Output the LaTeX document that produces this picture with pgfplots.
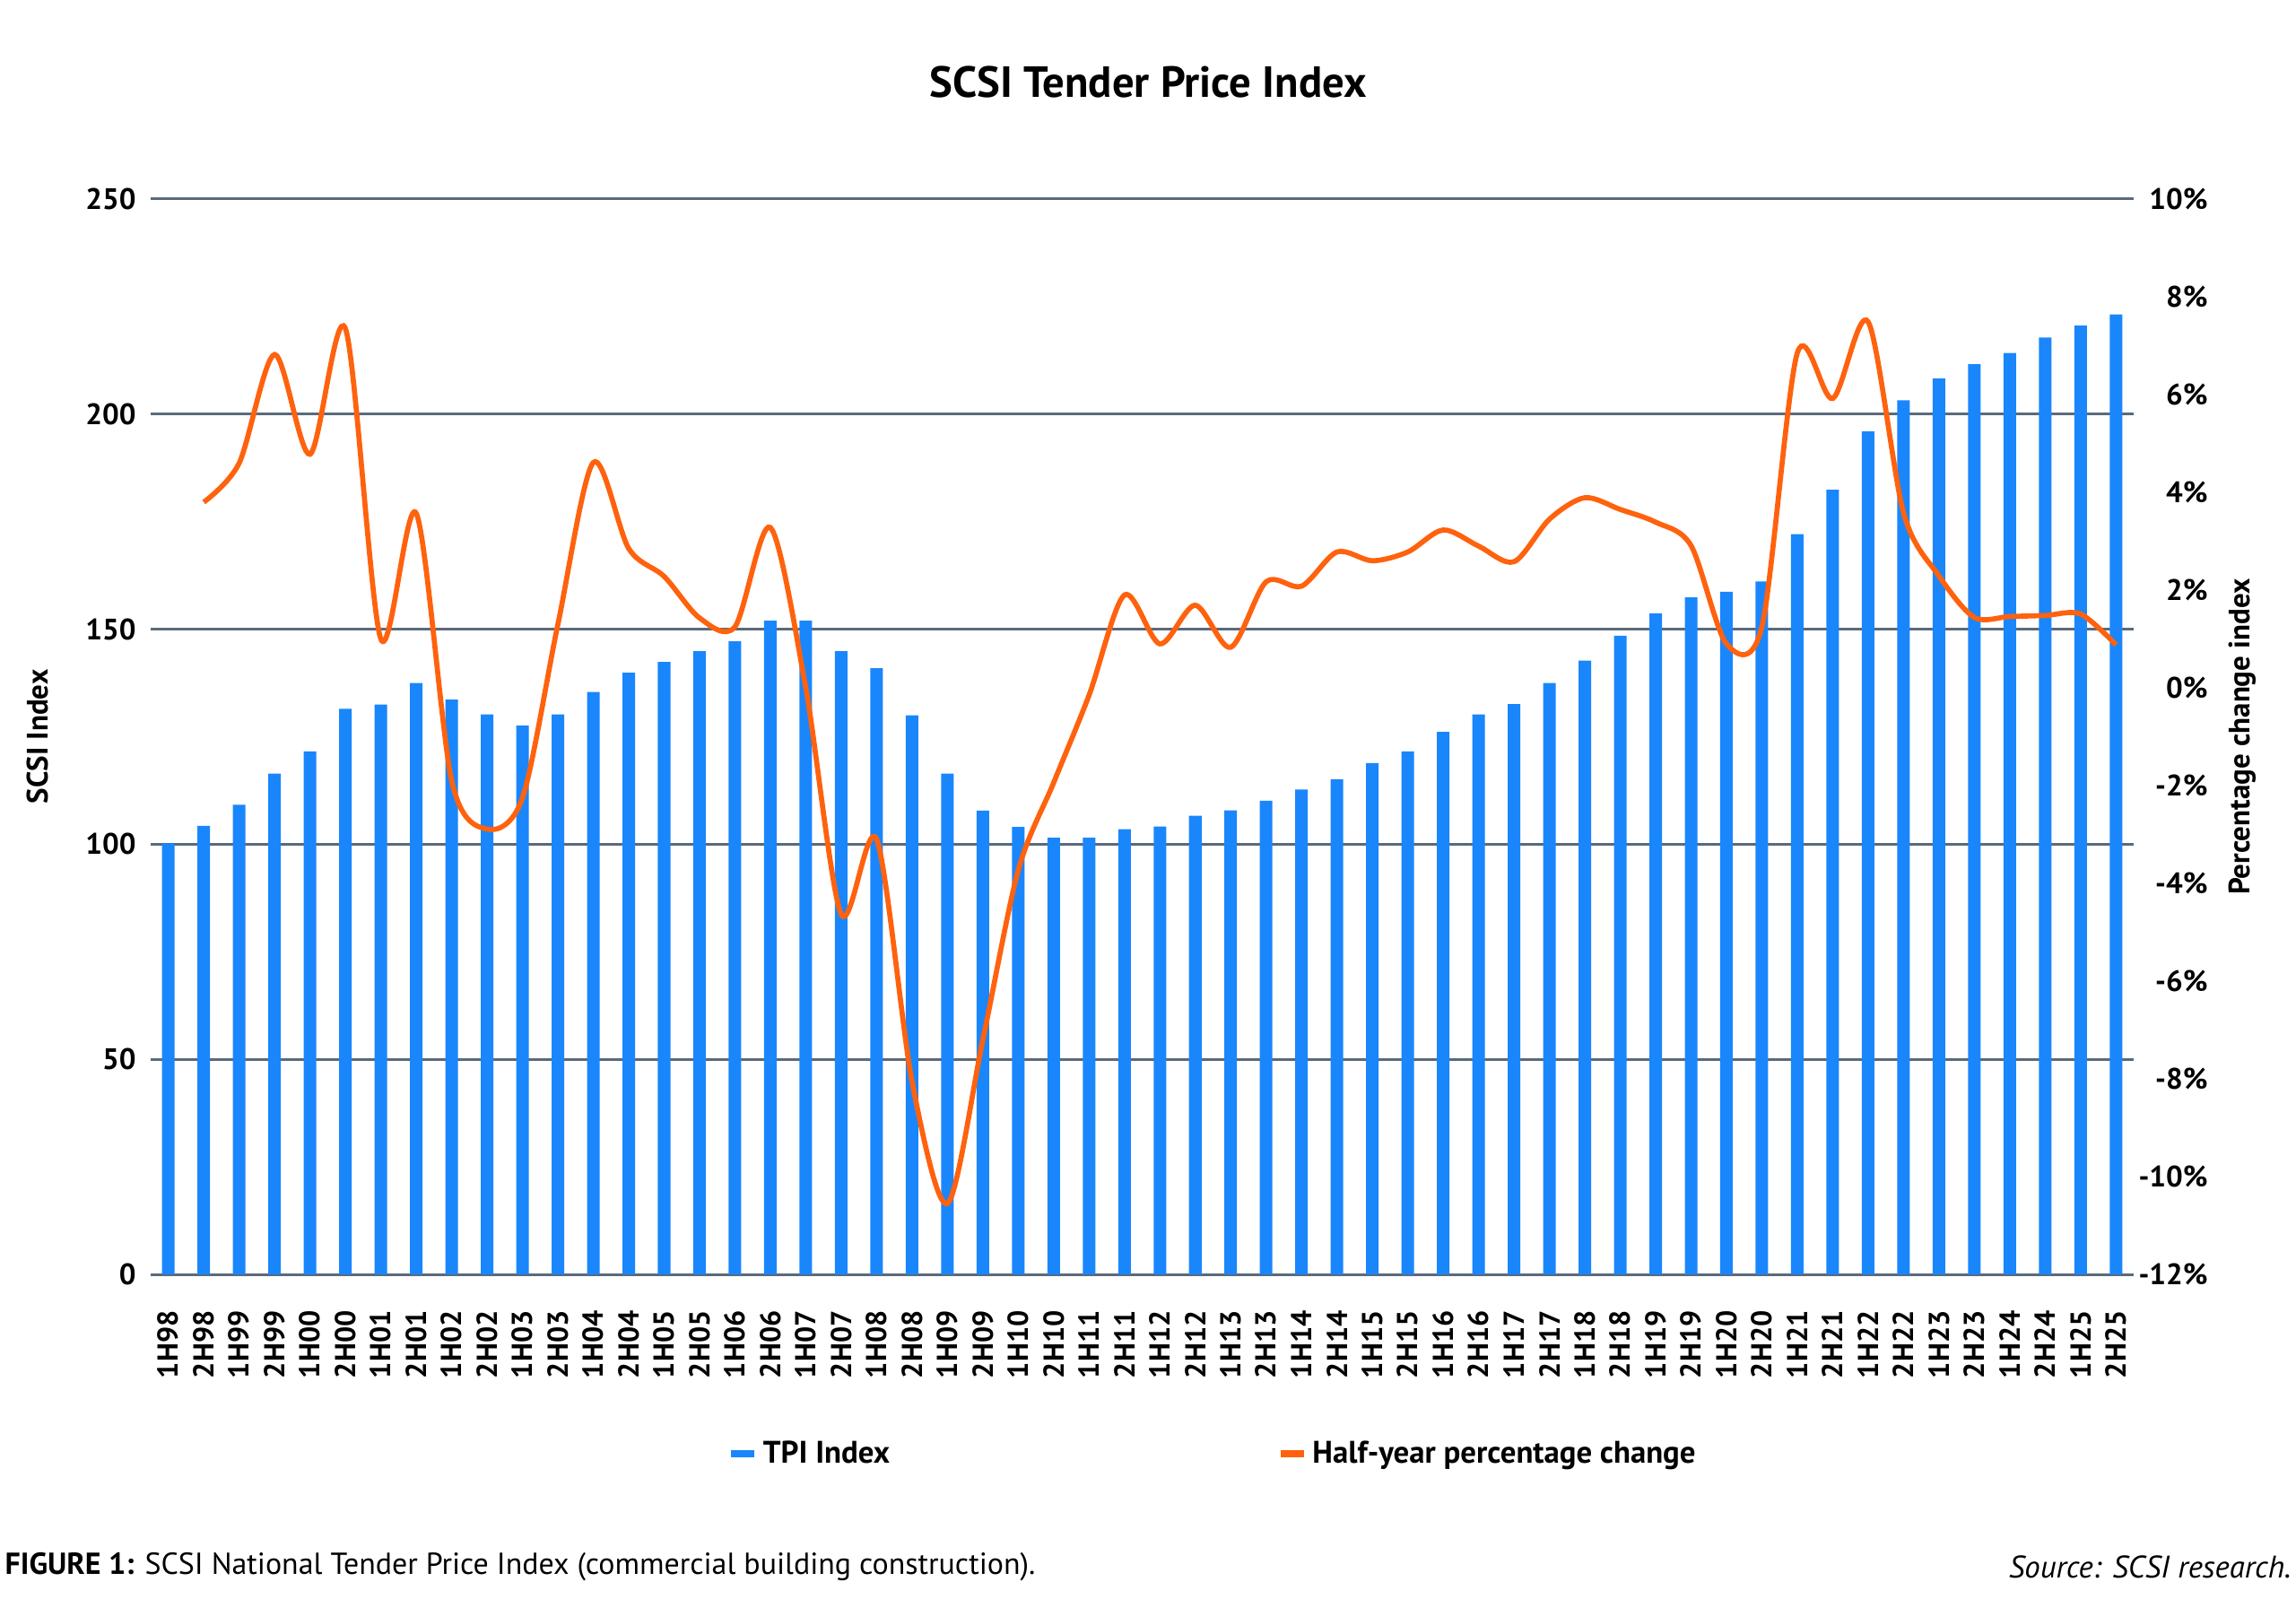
\documentclass[border=0pt]{standalone}
\usepackage{fontspec}
\setmainfont{PT Sans}
\usepackage{pgfplots}
\pgfplotsset{compat=1.18}
\definecolor{barblue}{RGB}{26,134,252}
\definecolor{lineorange}{RGB}{255,98,14}
\definecolor{gridc}{RGB}{90,106,124}
\begin{document}
\begin{tikzpicture}
\path[use as bounding box] (0,0) rectangle (853.33pt,594pt);
\node[font=\bfseries\fontsize{16.2}{18}\selectfont] at (426.67pt,563.5pt) {SCSI Tender Price Index};
\node[anchor=west, inner sep=0pt, font=\fontsize{11.3}{13}\selectfont] at (1.7pt,11.7pt) {\textbf{FIGURE 1:} SCSI National Tender Price Index (commercial building construction).};
\node[anchor=east, inner sep=0pt, font=\itshape\fontsize{11.6}{13}\selectfont] at (851.7pt,11.7pt) {Source: SCSI research.};
\begin{axis}[
  at={(56pt,120.33pt)}, anchor=south west,
  scale only axis, width=737pt, height=399.67pt,
  xmin=-0.5, xmax=55.5, ymin=0, ymax=250,
  axis line style={draw=none}, major tick length=0pt,
  ymajorgrids, grid style={line width=1pt, color=gridc},
  ytick={0,50,100,150,200,250},
  yticklabels={0,50,100,150,200,250},
  yticklabel style={font=\bfseries\fontsize{11}{12}\selectfont, inner sep=0pt, anchor=east},
  yticklabel shift=5.3pt,
  xtick={0,...,55},
  xticklabels={1H98,2H98,1H99,2H99,1H00,2H00,1H01,2H01,1H02,2H02,1H03,2H03,1H04,2H04,1H05,2H05,1H06,2H06,1H07,2H07,1H08,2H08,1H09,2H09,1H10,2H10,1H11,2H11,1H12,2H12,1H13,2H13,1H14,2H14,1H15,2H15,1H16,2H16,1H17,2H17,1H18,2H18,1H19,2H19,1H20,2H20,1H21,2H21,1H22,2H22,1H23,2H23,1H24,2H24,1H25,2H25},
  xticklabel style={rotate=90, anchor=east, inner sep=0pt, font=\bfseries\fontsize{10.7}{12}\selectfont},
  xticklabel shift=13.3pt,
  ylabel={SCSI Index},
  every axis y label/.style={at={(axis description cs:-0.057,0.5)}, rotate=90, anchor=center, font=\bfseries\fontsize{11}{12}\selectfont},
]
\addplot[ybar, bar width=4.67pt, fill=barblue, draw=none] coordinates {
(0,100.2) (1,104.3) (2,109.2) (3,116.4) (4,121.6) (5,131.5) (6,132.5) (7,137.5)
(8,133.6) (9,130.2) (10,127.6) (11,130.2) (12,135.4) (13,139.9) (14,142.4) (15,144.9)
(16,147.2) (17,152.0) (18,152.0) (19,144.9) (20,140.9) (21,130.0) (22,116.4) (23,107.8)
(24,104.0) (25,101.5) (26,101.5) (27,103.5) (28,104.1) (29,106.6) (30,107.9) (31,110.1)
(32,112.7) (33,115.1) (34,118.9) (35,121.6) (36,126.1) (37,130.2) (38,132.6) (39,137.5)
(40,142.7) (41,148.5) (42,153.7) (43,157.4) (44,158.7) (45,161.1) (46,172.1) (47,182.4)
(48,196.0) (49,203.2) (50,208.3) (51,211.6) (52,214.2) (53,217.8) (54,220.6) (55,223.2)
};
\end{axis}
\begin{axis}[
  at={(56pt,120.33pt)}, anchor=south west,
  scale only axis, width=737pt, height=399.67pt,
  xmin=-0.5, xmax=55.5, ymin=-12, ymax=10,
  axis y line*=right, axis x line=none,
  axis line style={draw=none}, major tick length=0pt,
  ytick={-12,-10,-8,-6,-4,-2,0,2,4,6,8,10},
  yticklabels={-12\%,-10\%,-8\%,-6\%,-4\%,-2\%,0\%,2\%,4\%,6\%,8\%,10\%},
  yticklabel style={font=\bfseries\fontsize{11}{12}\selectfont, inner sep=0pt, anchor=east},
  yticklabel shift=27.7pt,
  ylabel={Percentage change index},
  every axis y label/.style={at={(axis description cs:1.0547,0.5)}, rotate=90, anchor=center, font=\bfseries\fontsize{11}{12}\selectfont},
  legend columns=2,
  legend style={at={(axis description cs:0.2908,-0.1668)}, anchor=west, draw=none, fill=none, inner sep=0pt,
    font=\bfseries\fontsize{11.6}{13}\selectfont,
    /tikz/every even column/.append style={column sep=142pt}},
  legend image code/.code={\draw[line width=2.6pt] (0pt,0pt) -- (8.5pt,0pt);},
]
\addlegendimage{color=barblue}
\addlegendentry{TPI Index}
\addplot[smooth, tension=0.5, color=lineorange, line width=1.9pt] coordinates {
(1,3.8) (2,4.6) (3,6.82) (4,4.78) (5,7.35) (6,1.0) (7,3.57) (8,-1.9)
(9,-2.89) (10,-2.25) (11,1.3) (12,4.61) (13,2.85) (14,2.28) (15,1.43) (16,1.25)
(17,3.28) (18,0.0) (19,-4.63) (20,-3.1) (21,-8.05) (22,-10.55) (23,-7.2) (24,-3.73)
(25,-1.94) (26,-0.15) (27,1.9) (28,0.9) (29,1.69) (30,0.83) (31,2.17) (32,2.08)
(33,2.78) (34,2.6) (35,2.78) (36,3.23) (37,2.9) (38,2.58) (39,3.45) (40,3.89)
(41,3.65) (42,3.39) (43,2.91) (44,0.9) (45,1.25) (46,6.85) (47,5.92) (48,7.49)
(49,3.58) (50,2.29) (51,1.44) (52,1.46) (53,1.48) (54,1.51) (55,0.88)
};
\addlegendentry{Half-year percentage change}
\end{axis}
\end{tikzpicture}
\end{document}
